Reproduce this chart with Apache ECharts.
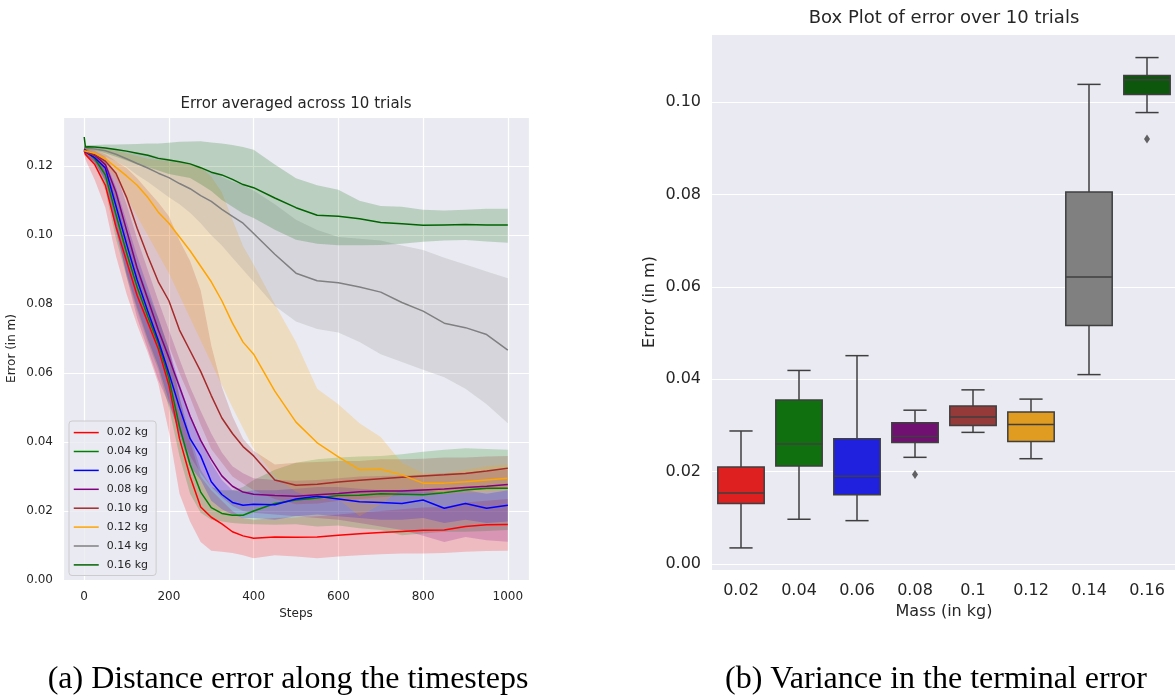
<!DOCTYPE html>
<html><head><meta charset="utf-8">
<script src="https://cdn.jsdelivr.net/npm/echarts@6/dist/echarts.min.js"></script>
<style>html,body{margin:0;padding:0;background:#fff}#c{width:1175px;height:696px}</style>
</head><body><div id="c"></div><script>
// ---------- Left chart: error over steps ----------
const steps = [0,3,10,25,50,75,100,125,150,175,200,225,250,275,300,325,350,375,400,450,500,550,600,650,700,750,800,850,900,950,1000];
const massLabels = ['0.02 kg','0.04 kg','0.06 kg','0.08 kg','0.10 kg','0.12 kg','0.14 kg','0.16 kg'];
const lineColors = ['#ff0000','#008000','#0000ff','#800080','#a52a2a','#ffa500','#808080','#006400'];
const bandColors = ['rgba(255,0,0,0.2)','rgba(0,128,0,0.2)','rgba(0,0,255,0.2)','rgba(128,0,128,0.2)','rgba(165,42,42,0.2)','rgba(255,165,0,0.2)','rgba(128,128,128,0.2)','rgba(0,100,0,0.2)'];

const mean002 = [0.1245,0.1235,0.1225,0.1205,0.1145,0.1025,0.0925,0.0825,0.0748,0.0670,0.0565,0.0410,0.0300,0.0212,0.0182,0.0163,0.0140,0.0128,0.0121,0.0125,0.0124,0.0125,0.0130,0.0134,0.0138,0.0141,0.0144,0.0145,0.0155,0.0160,0.0161];
const lo002 = [0.1235,0.1220,0.1200,0.1160,0.1080,0.0940,0.0830,0.0740,0.0660,0.0570,0.0430,0.0250,0.0170,0.0110,0.0085,0.0082,0.0078,0.0072,0.0063,0.0072,0.0068,0.0063,0.0068,0.0072,0.0075,0.0077,0.0077,0.0078,0.0082,0.0084,0.0085];
const hi002 = [0.1255,0.1248,0.1242,0.1232,0.1205,0.1100,0.1000,0.0910,0.0830,0.0760,0.0680,0.0530,0.0400,0.0300,0.0260,0.0230,0.0200,0.0180,0.0175,0.0180,0.0182,0.0185,0.0190,0.0195,0.0200,0.0205,0.0210,0.0212,0.0225,0.0230,0.0235];

const mean004 = [0.1250,0.1245,0.1238,0.1222,0.1175,0.1060,0.0950,0.0850,0.0765,0.0685,0.0585,0.0445,0.0335,0.0255,0.0210,0.0193,0.0188,0.0188,0.0200,0.0222,0.0232,0.0238,0.0245,0.0246,0.0250,0.0249,0.0247,0.0253,0.0261,0.0266,0.0266];
const lo004 = [0.1242,0.1235,0.1226,0.1205,0.1130,0.0990,0.0880,0.0780,0.0690,0.0610,0.0500,0.0360,0.0250,0.0195,0.0175,0.0170,0.0165,0.0163,0.0162,0.0160,0.0162,0.0155,0.0158,0.0150,0.0145,0.0130,0.0135,0.0140,0.0140,0.0142,0.0145];
const hi004 = [0.1258,0.1254,0.1249,0.1238,0.1215,0.1120,0.1020,0.0920,0.0840,0.0760,0.0670,0.0530,0.0420,0.0320,0.0270,0.0260,0.0260,0.0270,0.0290,0.0320,0.0340,0.0350,0.0355,0.0358,0.0360,0.0365,0.0372,0.0378,0.0382,0.0380,0.0378];

const mean006 = [0.1248,0.1242,0.1236,0.1225,0.1195,0.1085,0.0975,0.0870,0.0780,0.0695,0.0600,0.0500,0.0410,0.0360,0.0285,0.0248,0.0225,0.0217,0.0220,0.0218,0.0235,0.0243,0.0235,0.0227,0.0225,0.0222,0.0232,0.0208,0.0222,0.0208,0.0217];
const lo006 = [0.1242,0.1234,0.1226,0.1210,0.1155,0.1010,0.0890,0.0790,0.0700,0.0620,0.0520,0.0420,0.0330,0.0290,0.0230,0.0205,0.0190,0.0180,0.0180,0.0175,0.0185,0.0190,0.0185,0.0180,0.0175,0.0175,0.0180,0.0165,0.0175,0.0165,0.0170];
const hi006 = [0.1254,0.1250,0.1246,0.1238,0.1215,0.1140,0.1040,0.0940,0.0850,0.0760,0.0670,0.0570,0.0480,0.0410,0.0340,0.0290,0.0260,0.0255,0.0260,0.0260,0.0265,0.0270,0.0270,0.0265,0.0260,0.0260,0.0265,0.0250,0.0260,0.0250,0.0260];

const mean008 = [0.1250,0.1245,0.1240,0.1232,0.1205,0.1125,0.1015,0.0905,0.0815,0.0725,0.0645,0.0560,0.0475,0.0405,0.0350,0.0302,0.0272,0.0255,0.0249,0.0245,0.0243,0.0247,0.0251,0.0256,0.0258,0.0258,0.0261,0.0264,0.0268,0.0272,0.0277];
const lo008 = [0.1242,0.1236,0.1228,0.1210,0.1160,0.1030,0.0880,0.0760,0.0670,0.0580,0.0510,0.0430,0.0360,0.0310,0.0270,0.0240,0.0215,0.0200,0.0195,0.0190,0.0185,0.0180,0.0175,0.0165,0.0155,0.0145,0.0128,0.0110,0.0125,0.0115,0.0111];
const hi008 = [0.1255,0.1252,0.1250,0.1245,0.1228,0.1180,0.1090,0.0990,0.0900,0.0810,0.0725,0.0640,0.0560,0.0490,0.0425,0.0370,0.0330,0.0310,0.0295,0.0290,0.0288,0.0290,0.0295,0.0300,0.0302,0.0303,0.0305,0.0310,0.0312,0.0316,0.0320];

const mean010 = [0.1245,0.1240,0.1238,0.1233,0.1215,0.1180,0.1110,0.1020,0.0940,0.0865,0.0810,0.0725,0.0665,0.0605,0.0535,0.0470,0.0425,0.0387,0.0360,0.0290,0.0275,0.0278,0.0284,0.0289,0.0294,0.0298,0.0302,0.0305,0.0309,0.0316,0.0324];
const lo010 = [0.1235,0.1230,0.1225,0.1215,0.1180,0.1100,0.1010,0.0920,0.0840,0.0760,0.0680,0.0600,0.0530,0.0450,0.0380,0.0340,0.0300,0.0280,0.0260,0.0235,0.0220,0.0222,0.0230,0.0235,0.0240,0.0245,0.0250,0.0255,0.0260,0.0262,0.0265];
const hi010 = [0.1255,0.1252,0.1250,0.1247,0.1235,0.1215,0.1195,0.1165,0.1130,0.1095,0.1055,0.0985,0.0925,0.0840,0.0680,0.0560,0.0475,0.0410,0.0375,0.0335,0.0340,0.0342,0.0345,0.0345,0.0350,0.0350,0.0352,0.0355,0.0355,0.0358,0.0360];

const mean012 = [0.1245,0.1244,0.1242,0.1238,0.1222,0.1197,0.1172,0.1145,0.1110,0.1067,0.1035,0.0995,0.0955,0.0910,0.0865,0.0810,0.0745,0.0690,0.0655,0.0548,0.0458,0.0398,0.0357,0.0320,0.0321,0.0305,0.0281,0.0281,0.0285,0.0290,0.0295];
const lo012 = [0.1235,0.1233,0.1230,0.1222,0.1200,0.1165,0.1110,0.1055,0.1000,0.0945,0.0890,0.0825,0.0760,0.0695,0.0630,0.0565,0.0500,0.0440,0.0380,0.0300,0.0255,0.0235,0.0235,0.0185,0.0220,0.0265,0.0255,0.0250,0.0252,0.0255,0.0260];
const hi012 = [0.1255,0.1254,0.1253,0.1252,0.1250,0.1245,0.1238,0.1230,0.1222,0.1218,0.1215,0.1210,0.1205,0.1198,0.1170,0.1125,0.1045,0.0968,0.0915,0.0800,0.0690,0.0555,0.0510,0.0455,0.0415,0.0340,0.0310,0.0310,0.0320,0.0330,0.0335];

const mean014 = [0.1255,0.1253,0.1252,0.1250,0.1245,0.1235,0.1222,0.1208,0.1195,0.1180,0.1167,0.1150,0.1135,0.1115,0.1098,0.1075,0.1055,0.1035,0.1005,0.0945,0.0890,0.0868,0.0862,0.0850,0.0835,0.0805,0.0780,0.0745,0.0732,0.0712,0.0667];
const lo014 = [0.1248,0.1245,0.1240,0.1235,0.1228,0.1215,0.1198,0.1175,0.1155,0.1133,0.1110,0.1090,0.1065,0.1035,0.1000,0.0970,0.0935,0.0900,0.0865,0.0795,0.0750,0.0728,0.0718,0.0690,0.0655,0.0632,0.0610,0.0588,0.0555,0.0510,0.0455];
const hi014 = [0.1262,0.1260,0.1258,0.1256,0.1253,0.1250,0.1245,0.1240,0.1235,0.1228,0.1222,0.1213,0.1205,0.1195,0.1185,0.1170,0.1155,0.1145,0.1130,0.1090,0.1045,0.1015,0.0995,0.0990,0.0985,0.0970,0.0957,0.0935,0.0915,0.0895,0.0875];

const mean016 = [0.1285,0.1256,0.1257,0.1256,0.1253,0.1249,0.1244,0.1238,0.1232,0.1223,0.1218,0.1213,0.1207,0.1196,0.1183,0.1175,0.1162,0.1147,0.1138,0.1108,0.1080,0.1058,0.1055,0.1048,0.1037,0.1033,0.1029,0.1030,0.1031,0.1030,0.1030];
const lo016 = [0.1245,0.1248,0.1248,0.1246,0.1238,0.1228,0.1217,0.1205,0.1198,0.1188,0.1178,0.1172,0.1166,0.1148,0.1128,0.1102,0.1083,0.1063,0.1050,0.1016,0.0987,0.0975,0.0971,0.0971,0.0972,0.0975,0.0981,0.0985,0.0986,0.0982,0.0978];
const hi016 = [0.1285,0.1262,0.1262,0.1262,0.1263,0.1263,0.1264,0.1265,0.1266,0.1266,0.1268,0.1271,0.1272,0.1273,0.1269,0.1266,0.1262,0.1256,0.1248,0.1205,0.1165,0.1145,0.1132,0.1100,0.1085,0.1083,0.1074,0.1072,0.1074,0.1077,0.1077];

const means = [mean002,mean004,mean006,mean008,mean010,mean012,mean014,mean016];
const lows = [lo002,lo004,lo006,lo008,lo010,lo012,lo014,lo016];
const highs = [hi002,hi004,hi006,hi008,hi010,hi012,hi014,hi016];

// ---------- Right chart: box plot of terminal error ----------
const boxCategories = ['0.02','0.04','0.06','0.08','0.1','0.12','0.14','0.16'];
const whiskerLow  = [0.0035,0.0097,0.0094,0.0231,0.0285,0.0228,0.0410,0.0977];
const quartile1   = [0.0131,0.0212,0.0150,0.0263,0.0300,0.0265,0.0516,0.1016];
const medians     = [0.0154,0.0260,0.0190,0.0276,0.0318,0.0302,0.0621,0.1048];
const quartile3   = [0.0210,0.0355,0.0271,0.0306,0.0342,0.0329,0.0805,0.1057];
const whiskerHigh = [0.0288,0.0419,0.0451,0.0333,0.0377,0.0357,0.1038,0.1096];
const outlierCat  = [3, 7];
const outlierVal  = [0.0194, 0.0920];
const boxColors = ['#df2020','#107010','#2020df','#701070','#963939','#df9c20','#808080','#0c570c'];

const FONT = 'DejaVu Sans';
const TXT = '#262626';
const BG = '#EAEAF2';

function gridFmt(v){ const k=v/0.02; return Math.abs(k-Math.round(k))<1e-6 ? v.toFixed(2) : ''; }

const series = [];
for (let i=0;i<8;i++){
  series.push({
    name: massLabels[i], type:'line', xAxisIndex:0, yAxisIndex:0,
    data: steps.map((s,j)=>[s, means[i][j]]),
    symbol:'none', showSymbol:false, color: lineColors[i],
    lineStyle:{width:1.5, color: lineColors[i]}, z:3
  });
  const bi = i;
  series.push({
    name:'band'+i, type:'custom', xAxisIndex:0, yAxisIndex:0, silent:true, clip:true, z:3,
    data: steps.map((s,j)=>[s, lows[bi][j], highs[bi][j]]),
    encode:{x:0, y:[1,2]},
    renderItem: function(params, api){
      if (params.dataIndex !== 0) return null;
      const pts = [];
      for (let j=0;j<steps.length;j++) pts.push(api.coord([steps[j], highs[bi][j]]));
      for (let j=steps.length-1;j>=0;j--) pts.push(api.coord([steps[j], lows[bi][j]]));
      return {type:'polygon', shape:{points:pts}, style:{fill:bandColors[bi], stroke:null}};
    }
  });
}

series.push({
  type:'custom', xAxisIndex:1, yAxisIndex:1,
  data: boxCategories.map((c,i)=>[i, whiskerLow[i], quartile1[i], medians[i], quartile3[i], whiskerHigh[i]]),
  encode:{x:0, y:[1,2,3,4,5]},
  renderItem: function(params, api){
    const i = api.value(0);
    const bw = api.size([1,0])[0]*0.8;
    const cx = api.coord([i,0])[0];
    const yWL = api.coord([i, api.value(1)])[1];
    const yQ1 = api.coord([i, api.value(2)])[1];
    const yMd = api.coord([i, api.value(3)])[1];
    const yQ3 = api.coord([i, api.value(4)])[1];
    const yWH = api.coord([i, api.value(5)])[1];
    const st = {stroke:'#3f3f3f', lineWidth:1.5};
    return {type:'group', children:[
      {type:'line', shape:{x1:cx,y1:yWH,x2:cx,y2:yQ3}, style:st},
      {type:'line', shape:{x1:cx,y1:yQ1,x2:cx,y2:yWL}, style:st},
      {type:'line', shape:{x1:cx-bw/4,y1:yWH,x2:cx+bw/4,y2:yWH}, style:st},
      {type:'line', shape:{x1:cx-bw/4,y1:yWL,x2:cx+bw/4,y2:yWL}, style:st},
      {type:'rect', shape:{x:cx-bw/2,y:yQ3,width:bw,height:yQ1-yQ3}, style:{fill:boxColors[i], stroke:'#3f3f3f', lineWidth:1.5}},
      {type:'line', shape:{x1:cx-bw/2,y1:yMd,x2:cx+bw/2,y2:yMd}, style:st}
    ]};
  }
});
series.push({
  type:'scatter', xAxisIndex:1, yAxisIndex:1,
  data: outlierCat.map((c,i)=>[c, outlierVal[i]]),
  symbol:'diamond', symbolSize:[6,9], itemStyle:{color:'#3f3f3f'}, z:5
});

const option = {
  animation:false,
  textStyle:{fontFamily:FONT},
  title:[
    {text:'Error averaged across 10 trials', left:296, top:97, textAlign:'center', padding:0,
     textStyle:{fontFamily:FONT, fontSize:15, fontWeight:'normal', color:TXT}},
    {text:'Box Plot of error over 10 trials', left:944, top:9, textAlign:'center', padding:0,
     textStyle:{fontFamily:FONT, fontSize:18, fontWeight:'normal', color:TXT}},
    {text:'(a) Distance error along the timesteps', left:288, top:664, textAlign:'center', padding:0,
     textStyle:{fontFamily:'Liberation Serif', fontSize:32, fontWeight:'normal', color:'#000'}},
    {text:'(b) Variance in the terminal error', left:936, top:664, textAlign:'center', padding:0,
     textStyle:{fontFamily:'Liberation Serif', fontSize:32, fontWeight:'normal', color:'#000'}}
  ],
  legend:{
    data: massLabels, orient:'vertical', left:69, top:421,
    itemWidth:25, itemHeight:14, itemGap:7.7, padding:[6,8,5,4],
    itemStyle:{opacity:0}, lineStyle:{width:1.5},
    backgroundColor:'rgba(234,234,242,0.8)', borderColor:'#cccccc', borderWidth:1, borderRadius:3,
    textStyle:{fontFamily:FONT, fontSize:11, color:TXT, padding:[0,0,0,3]}
  },
  grid:[
    {left:63, top:117, width:466, height:463, show:true, backgroundColor:BG, borderWidth:0, containLabel:false, outerBoundsMode:'none'},
    {left:712, top:34, width:464, height:536, show:true, backgroundColor:BG, borderWidth:0, containLabel:false, outerBoundsMode:'none'}
  ],
  xAxis:[
    {type:'value', gridIndex:0, min:-50, max:1050, splitNumber:5,
     name:'Steps', nameLocation:'middle', nameGap:27, nameTextStyle:{fontFamily:FONT, fontSize:12, color:TXT},
     axisLine:{show:false}, axisTick:{show:false},
     axisLabel:{fontFamily:FONT, fontSize:12, color:TXT, margin:11, formatter:function(v){return (v%200===0)?String(v):'';}},
     splitLine:{show:true, lineStyle:{color:'#ffffff', width:1.2}}},
    {type:'category', gridIndex:1, data:boxCategories, boundaryGap:true,
     name:'Mass (in kg)', nameLocation:'middle', nameGap:31, nameTextStyle:{fontFamily:FONT, fontSize:16, color:TXT},
     axisLine:{show:false}, axisTick:{show:false},
     axisLabel:{fontFamily:FONT, fontSize:16, color:TXT, margin:13},
     splitLine:{show:false}}
  ],
  yAxis:[
    {type:'value', gridIndex:0, min:0, max:0.1343, splitNumber:6,
     name:'Error (in m)', nameLocation:'middle', nameGap:45, nameTextStyle:{fontFamily:FONT, fontSize:12, color:TXT},
     axisLine:{show:false}, axisTick:{show:false},
     axisLabel:{fontFamily:FONT, fontSize:12, color:TXT, margin:10, formatter:gridFmt},
     splitLine:{show:true, lineStyle:{color:'#ffffff', width:1.2}}},
    {type:'value', gridIndex:1, min:-0.00128, max:0.1147, splitNumber:5,
     name:'Error (in m)', nameLocation:'middle', nameGap:54, nameTextStyle:{fontFamily:FONT, fontSize:16, color:TXT},
     axisLine:{show:false}, axisTick:{show:false},
     axisLabel:{fontFamily:FONT, fontSize:16, color:TXT, margin:11, formatter:gridFmt},
     splitLine:{show:true, lineStyle:{color:'#ffffff', width:1.2}}}
  ],
  series: series
};
const chart = echarts.init(document.getElementById('c'), null, {renderer:'canvas'});
chart.setOption(option);
</script></body></html>
